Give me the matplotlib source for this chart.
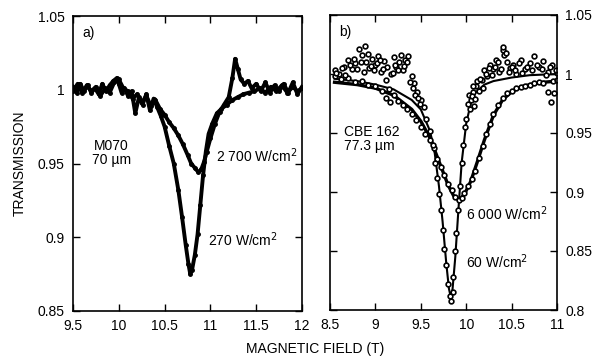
import matplotlib
matplotlib.use("Agg")
import matplotlib.pyplot as plt

plt.rcParams["font.family"] = ["Liberation Sans", "DejaVu Sans"]

# panel a) M070, 70 um
a_x_270 = [9.50, 9.54, 9.58, 9.62, 9.66, 9.70, 9.74, 9.78, 9.82, 9.86, 9.90, 9.94, 9.98, 10.00,
           10.03, 10.06, 10.10, 10.14, 10.18, 10.22, 10.26, 10.30, 10.34, 10.38, 10.42, 10.46,
           10.50, 10.55, 10.60, 10.65, 10.69, 10.73, 10.76, 10.78, 10.80, 10.83, 10.86, 10.89,
           10.92, 10.95, 10.98, 11.02, 11.07, 11.12, 11.18, 11.24, 11.30, 11.36, 11.42, 11.48,
           11.54, 11.60, 11.66, 11.72, 11.78, 11.84, 11.90, 11.95, 12.00]
a_y_270 = [1.002, 0.998, 1.004, 0.999, 1.003, 0.998, 1.001, 0.997, 1.004, 0.999, 1.003, 1.006,
           1.008, 1.004, 0.998, 1.001, 0.996, 0.999, 0.984, 0.995, 0.990, 0.997, 0.986, 0.994,
           0.988, 0.982, 0.975, 0.962, 0.950, 0.932, 0.914, 0.895, 0.882, 0.875, 0.878, 0.888,
           0.902, 0.922, 0.942, 0.958, 0.970, 0.977, 0.984, 0.987, 0.990, 0.993, 0.995, 0.997,
           0.998, 0.999, 1.001, 0.998, 1.002, 0.999, 1.003, 0.998, 1.002, 0.999, 1.001]

a_x_2700 = [9.50, 9.55, 9.60, 9.65, 9.70, 9.75, 9.80, 9.85, 9.90, 9.95, 10.00, 10.05, 10.10,
            10.15, 10.20, 10.25, 10.30, 10.35, 10.40, 10.45, 10.50, 10.55, 10.60, 10.65, 10.70,
            10.75, 10.79, 10.83, 10.87, 10.90, 10.93, 10.96, 11.00, 11.05, 11.10, 11.15, 11.20,
            11.24, 11.27, 11.30, 11.33, 11.37, 11.41, 11.45, 11.50, 11.55, 11.60, 11.65, 11.70,
            11.75, 11.80, 11.85, 11.90, 11.95, 12.00]
a_y_2700 = [0.999, 1.004, 0.998, 1.003, 0.999, 1.002, 0.996, 1.001, 0.998, 1.005, 1.007, 1.001,
            0.999, 0.994, 0.997, 0.991, 0.996, 0.989, 0.993, 0.987, 0.983, 0.978, 0.974, 0.969,
            0.963, 0.956, 0.950, 0.947, 0.944, 0.946, 0.951, 0.958, 0.967, 0.977, 0.985, 0.990,
            0.995, 1.008, 1.021, 1.014, 1.007, 1.004, 1.006, 1.001, 1.004, 0.999, 1.005, 0.998,
            1.003, 0.999, 1.004, 0.998, 1.005, 0.997, 1.002]

# panel b) CBE 162, 77.3 um
b_x_60 = [8.55, 8.60, 8.65, 8.70, 8.74, 8.78, 8.82, 8.85, 8.88, 8.90, 8.93, 8.96, 9.00, 9.03,
          9.06, 9.10, 9.13, 9.17, 9.20, 9.23, 9.26, 9.30, 9.33, 9.36, 9.40, 9.43, 9.46, 9.50,
          9.53, 9.56, 9.60, 9.63, 9.66, 9.68, 9.70, 9.72, 9.74, 9.76, 9.78, 9.80, 9.82, 9.83,
          9.85, 9.86, 9.88, 9.89, 9.91, 9.93, 9.95, 9.97, 9.99, 10.00, 10.02, 10.03, 10.05,
          10.07, 10.09, 10.11, 10.14, 10.17, 10.20, 10.23, 10.26, 10.30, 10.33, 10.36, 10.40,
          10.42, 10.45, 10.48, 10.52, 10.55, 10.60, 10.65, 10.70, 10.75, 10.80, 10.85, 10.90,
          10.95, 11.00]
b_y_60 = [1.003, 1.000, 1.006, 1.012, 1.004, 1.009, 1.021, 1.016, 1.024, 1.010, 1.005, 1.013,
          1.008, 1.015, 1.002, 1.011, 1.006, 1.000, 1.014, 1.006, 1.010, 1.003, 1.012, 1.015,
          0.998, 0.992, 0.985, 0.978, 0.972, 0.962, 0.952, 0.940, 0.925, 0.912, 0.898, 0.885,
          0.868, 0.852, 0.838, 0.822, 0.812, 0.808, 0.815, 0.828, 0.850, 0.865, 0.885, 0.905,
          0.925, 0.940, 0.955, 0.962, 0.975, 0.982, 0.978, 0.985, 0.973, 0.990, 0.986, 0.995,
          1.003, 0.998, 1.008, 1.004, 1.012, 1.002, 1.020, 1.016, 1.010, 1.005, 1.008, 1.000,
          1.012, 1.004, 1.009, 1.015, 1.006, 1.011, 1.002, 1.008, 1.001]
b_x_60_more = [8.57, 8.63, 8.67, 8.72, 8.76, 8.80, 8.84, 8.87, 8.92, 8.95, 8.98, 9.02, 9.05,
               9.08, 9.12, 9.15, 9.19, 9.22, 9.25, 9.28, 9.32, 9.35, 9.38, 9.41, 9.44, 9.47,
               9.49, 10.04, 10.06, 10.08, 10.10, 10.12, 10.15, 10.18, 10.22, 10.25, 10.28,
               10.32, 10.35, 10.38, 10.41, 10.44, 10.47, 10.50, 10.54, 10.58, 10.62, 10.67,
               10.72, 10.78, 10.83, 10.88, 10.92, 10.97, 10.99]
b_y_60_more = [1.001, 1.005, 0.999, 1.008, 1.013, 1.004, 1.010, 1.002, 1.017, 1.007, 1.003,
               1.009, 1.012, 1.004, 0.995, 0.987, 1.001, 1.008, 1.003, 1.016, 1.007, 1.010,
               0.993, 0.988, 0.982, 0.980, 0.975, 0.970, 0.981, 0.990, 0.979, 0.994, 0.996,
               0.988, 1.000, 1.005, 0.999, 1.006, 1.010, 1.004, 1.023, 1.018, 1.002, 1.006,
               1.003, 1.009, 1.001, 1.006, 1.003, 1.008, 1.004, 0.999, 1.006, 0.984, 1.003]

b_x_6000 = [8.55, 8.62, 8.70, 8.78, 8.85, 8.92, 9.00, 9.07, 9.12, 9.16, 9.20, 9.25, 9.30, 9.35,
            9.40, 9.45, 9.50, 9.55, 9.60, 9.64, 9.68, 9.72, 9.76, 9.80, 9.84, 9.88, 9.92, 9.95,
            9.98, 10.02, 10.06, 10.10, 10.14, 10.18, 10.22, 10.26, 10.30, 10.35, 10.40, 10.45,
            10.50, 10.55, 10.60, 10.65, 10.70, 10.75, 10.80, 10.85, 10.90, 10.93, 10.96, 11.00]
b_y_6000 = [0.998, 0.996, 0.997, 0.993, 0.994, 0.991, 0.990, 0.986, 0.980, 0.976, 0.982, 0.977,
            0.974, 0.970, 0.966, 0.961, 0.955, 0.949, 0.944, 0.937, 0.928, 0.921, 0.914, 0.907,
            0.902, 0.896, 0.893, 0.895, 0.899, 0.905, 0.911, 0.918, 0.929, 0.939, 0.949, 0.958,
            0.966, 0.974, 0.980, 0.984, 0.986, 0.988, 0.989, 0.990, 0.991, 0.992, 0.993, 0.992,
            0.985, 0.976, 0.994, 0.995]

fit_x_60 = [8.55, 8.8, 9.0, 9.2, 9.4, 9.5, 9.6, 9.65, 9.7, 9.74, 9.78, 9.81, 9.83, 9.85, 9.88,
            9.91, 9.95, 10.0, 10.05, 10.1, 10.2, 10.3, 10.5, 10.7, 11.0]
fit_y_60 = [0.996, 0.994, 0.991, 0.987, 0.978, 0.970, 0.952, 0.935, 0.905, 0.875, 0.840, 0.818,
            0.811, 0.818, 0.845, 0.880, 0.925, 0.958, 0.975, 0.984, 0.991, 0.994, 0.997, 0.999,
            1.000]
fit_x_6000 = [8.55, 8.8, 9.0, 9.2, 9.4, 9.5, 9.6, 9.7, 9.8, 9.86, 9.92, 9.98, 10.05, 10.12,
              10.2, 10.3, 10.4, 10.5, 10.6, 10.7, 10.85, 11.0]
fit_y_6000 = [0.993, 0.991, 0.988, 0.982, 0.970, 0.960, 0.946, 0.926, 0.906, 0.897, 0.893,
              0.898, 0.909, 0.925, 0.944, 0.965, 0.978, 0.985, 0.989, 0.991, 0.993, 0.994]

a_xticks = [9.5, 10, 10.5, 11, 11.5, 12]
a_xlabels = ["9.5", "10", "10.5", "11", "11.5", "12"]
a_yticks = [0.85, 0.9, 0.95, 1.0, 1.05]
a_ylabels = ["0.85", "0.9", "0.95", "1", "1.05"]
b_xticks = [8.5, 9, 9.5, 10, 10.5, 11]
b_xlabels = ["8.5", "9", "9.5", "10", "10.5", "11"]
b_yticks = [0.8, 0.85, 0.9, 0.95, 1.0, 1.05]
b_ylabels = ["0.8", "0.85", "0.9", "0.95", "1", "1.05"]

fig = plt.figure(figsize=(5.95, 3.62), dpi=100)
ax1 = fig.add_axes([73 / 595, 1 - 311 / 362, 229 / 595, 295 / 362])
ax2 = fig.add_axes([330 / 595, 1 - 310 / 362, 227 / 595, 295 / 362])

ax1.plot(a_x_270, a_y_270, color="black", lw=2.8, marker="o", ms=2.5)
ax1.plot(a_x_2700, a_y_2700, color="black", lw=2.8, marker="o", ms=2.5)
ax1.set_xlim(9.5, 12)
ax1.set_ylim(0.85, 1.05)
ax1.set_xticks(a_xticks)
ax1.set_xticklabels(a_xlabels)
ax1.set_yticks(a_yticks)
ax1.set_yticklabels(a_ylabels)
ax1.set_ylabel("TRANSMISSION", fontsize=10, labelpad=8)
ax1.text(0.04, 0.965, "a)", transform=ax1.transAxes, fontsize=10, va="top")
ax1.text(9.92, 0.957, "M070\n70 µm", fontsize=10, ha="center", va="center",
         linespacing=1.0)
ax1.text(11.06, 0.955, "2 700 W/cm$^2$", fontsize=10, va="center")
ax1.text(10.97, 0.898, "270 W/cm$^2$", fontsize=10, va="center")

ax2.plot(fit_x_6000, fit_y_6000, color="black", lw=2.4)
ax2.plot(fit_x_60, fit_y_60, color="black", lw=1.5)
ax2.plot(b_x_6000, b_y_6000, "o", color="black", mfc="white", ms=3.4, mew=1.2)
ax2.plot(b_x_60, b_y_60, "o", color="black", mfc="white", ms=3.4, mew=1.2)
ax2.plot(b_x_60_more, b_y_60_more, "o", color="black", mfc="white", ms=3.4, mew=1.2)
ax2.set_xlim(8.5, 11)
ax2.set_ylim(0.8, 1.05)
ax2.set_xticks(b_xticks)
ax2.set_xticklabels(b_xlabels)
ax2.set_yticks(b_yticks)
ax2.set_yticklabels(b_ylabels)
ax2.yaxis.tick_right()
ax2.text(0.04, 0.965, "b)", transform=ax2.transAxes, fontsize=10, va="top")
ax2.text(8.65, 0.945, "CBE 162\n77.3 µm", fontsize=10, va="center", linespacing=1.0)
ax2.text(10.0, 0.882, "6 000 W/cm$^2$", fontsize=10, va="center")
ax2.text(10.0, 0.841, "60 W/cm$^2$", fontsize=10, va="center")

for ax in (ax1, ax2):
    ax.tick_params(direction="in", length=5, width=1, top=True, right=True, left=True,
                   labelsize=10, pad=6)
    for s in ax.spines.values():
        s.set_linewidth(1.2)
ax2.tick_params(labelleft=False, labelright=True)

fig.text(0.53, 0.025, "MAGNETIC FIELD (T)", fontsize=10, ha="center")

fig.savefig("out.png", dpi=100)
